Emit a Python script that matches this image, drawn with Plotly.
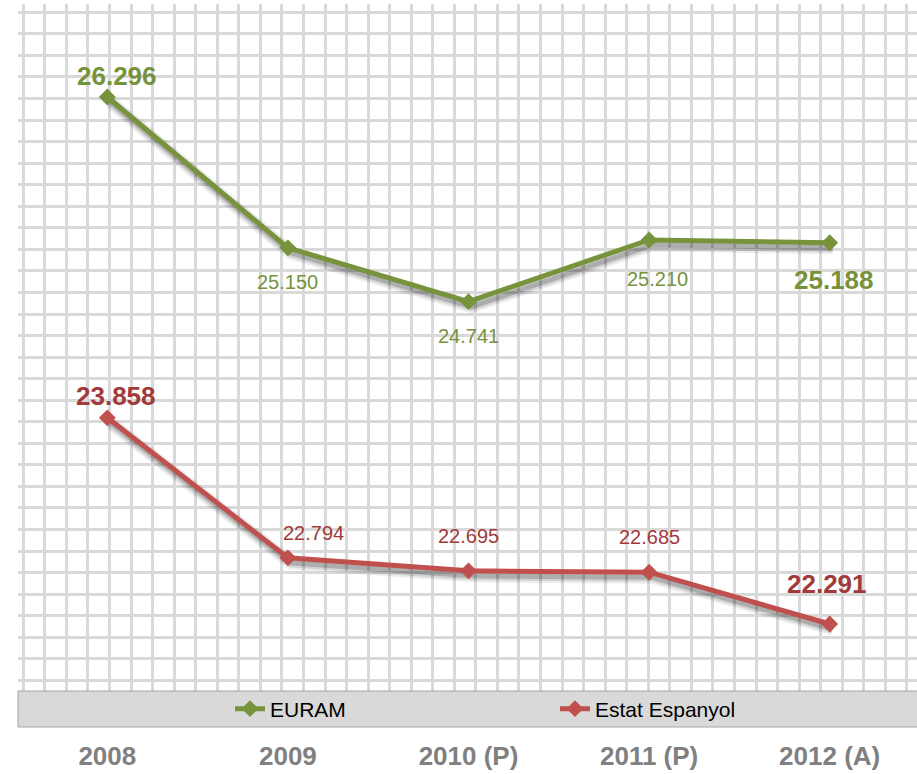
import plotly.graph_objects as go

# ---- data ----
years = ["2008", "2009", "2010 (P)", "2011 (P)", "2012 (A)"]
euram = [26296, 25150, 24741, 25210, 25188]
estat = [23858, 22794, 22695, 22685, 22291]
series_names = ["EURAM", "Estat Espanyol"]

# ---- styling / layout constants ----
W, H = 917, 774
ML, MR, MT, MB = 18, 0, 4, 83
PW, PH = W - ML - MR, H - MT - MB

GREEN, RED = "#77933C", "#C0504D"
GREEN_TXT, RED_TXT = "#76923C", "#A13A3A"
FONT = "Liberation Sans, Arial, sans-serif"

XR = [-0.4945, 4.4834]
YR = [21782, 27003]
px_per_x = PW / (XR[1] - XR[0])
px_per_y = PH / (YR[1] - YR[0])
SHX, SHY = 3, 5  # shadow offset in px
XR_SH = [XR[0] - SHX / px_per_x, XR[1] - SHX / px_per_x]
YR_SH = [YR[0] + SHY / px_per_y, YR[1] + SHY / px_per_y]

fig = go.Figure()

# anchor trace for the background grid axes
fig.add_trace(go.Scatter(x=[], y=[], xaxis="x", yaxis="y", showlegend=False, hoverinfo="skip"))

# shadows
for vals in (euram, estat):
    for w, a in ((13, 0.07), (9, 0.11), (5, 0.18)):
        fig.add_trace(go.Scatter(
            x=years, y=vals, xaxis="x2", yaxis="y2", mode="lines",
            line=dict(color=f"rgba(0,0,0,{a})", width=w),
            showlegend=False, hoverinfo="skip"))

# main series
fig.add_trace(go.Scatter(
    x=years, y=euram, xaxis="x3", yaxis="y3", name=series_names[0],
    mode="lines+markers", line=dict(color=GREEN, width=5),
    marker=dict(symbol="diamond", size=13, color=GREEN), legend="legend"))
fig.add_trace(go.Scatter(
    x=years, y=estat, xaxis="x3", yaxis="y3", name=series_names[1],
    mode="lines+markers", line=dict(color=RED, width=5),
    marker=dict(symbol="diamond", size=13, color=RED), legend="legend2"))

# data labels
def fmt(v):
    return f"{v:,}".replace(",", ".")

eu_off = [(10, 21, True), (0, -34, False), (0, -34, False), (8, -39, False), (4, -37, True)]
es_off = [(9, 22, True), (26, 25, False), (0, 35, False), (0, 35, False), (-3, 40, True)]
annotations = []
for vals, offs, col in ((euram, eu_off, GREEN_TXT), (estat, es_off, RED_TXT)):
    for i, (yv, (dx, dy, big)) in enumerate(zip(vals, offs)):
        annotations.append(dict(
            x=i, y=yv, xref="x3", yref="y3", text=fmt(yv), showarrow=False,
            xshift=dx, yshift=dy,
            font=dict(family=FONT, size=26 if big else 20, color=col,
                      weight="bold" if big else "normal")))

# legend band
shapes = [dict(type="rect", xref="paper", yref="paper", x0=0, x1=1.01,
               y0=-36 / PH, y1=0, fillcolor="#D9D9D9",
               line=dict(color="#A6A6A6", width=1), layer="above")]

grid_col = "#D9D9D9"
fig.update_layout(
    width=W, height=H, margin=dict(l=ML, r=MR, t=MT, b=MB, autoexpand=False),
    paper_bgcolor="white", plot_bgcolor="white",
    separators=",.", showlegend=True, hovermode=False,
    xaxis=dict(range=[0, PW], tick0=5.3, dtick=21.55, showgrid=True,
               gridcolor=grid_col, gridwidth=2.5, showticklabels=False,
               zeroline=False, showline=False, ticks=""),
    yaxis=dict(range=[PH, 0], tick0=8.3, dtick=21.55, showgrid=True,
               gridcolor=grid_col, gridwidth=2.5, showticklabels=False,
               zeroline=False, showline=False, ticks=""),
    xaxis2=dict(overlaying="x", range=XR_SH, visible=False, type="category"),
    yaxis2=dict(overlaying="y", range=YR_SH, visible=False),
    xaxis3=dict(overlaying="x", range=XR, type="category", anchor="y3",
                showgrid=False, zeroline=False, showline=False, ticks="",
                ticklabelstandoff=47,
                tickfont=dict(family=FONT, size=26, color="#808080", weight="bold")),
    yaxis3=dict(overlaying="y", range=YR, visible=False),
    legend=dict(x=(230 - ML) / PW, xanchor="left", y=-18 / PH, yanchor="middle",
                bgcolor="rgba(0,0,0,0)", font=dict(family=FONT, size=21, color="black"),
                itemwidth=30),
    legend2=dict(x=(555 - ML) / PW, xanchor="left", y=-18 / PH, yanchor="middle",
                 bgcolor="rgba(0,0,0,0)", font=dict(family=FONT, size=21, color="black"),
                 itemwidth=30),
    annotations=annotations, shapes=shapes,
)

fig.write_html("out.html", config={"displayModeBar": False},
               post_script="document.body.style.margin='0px';document.body.style.overflow='hidden';")
